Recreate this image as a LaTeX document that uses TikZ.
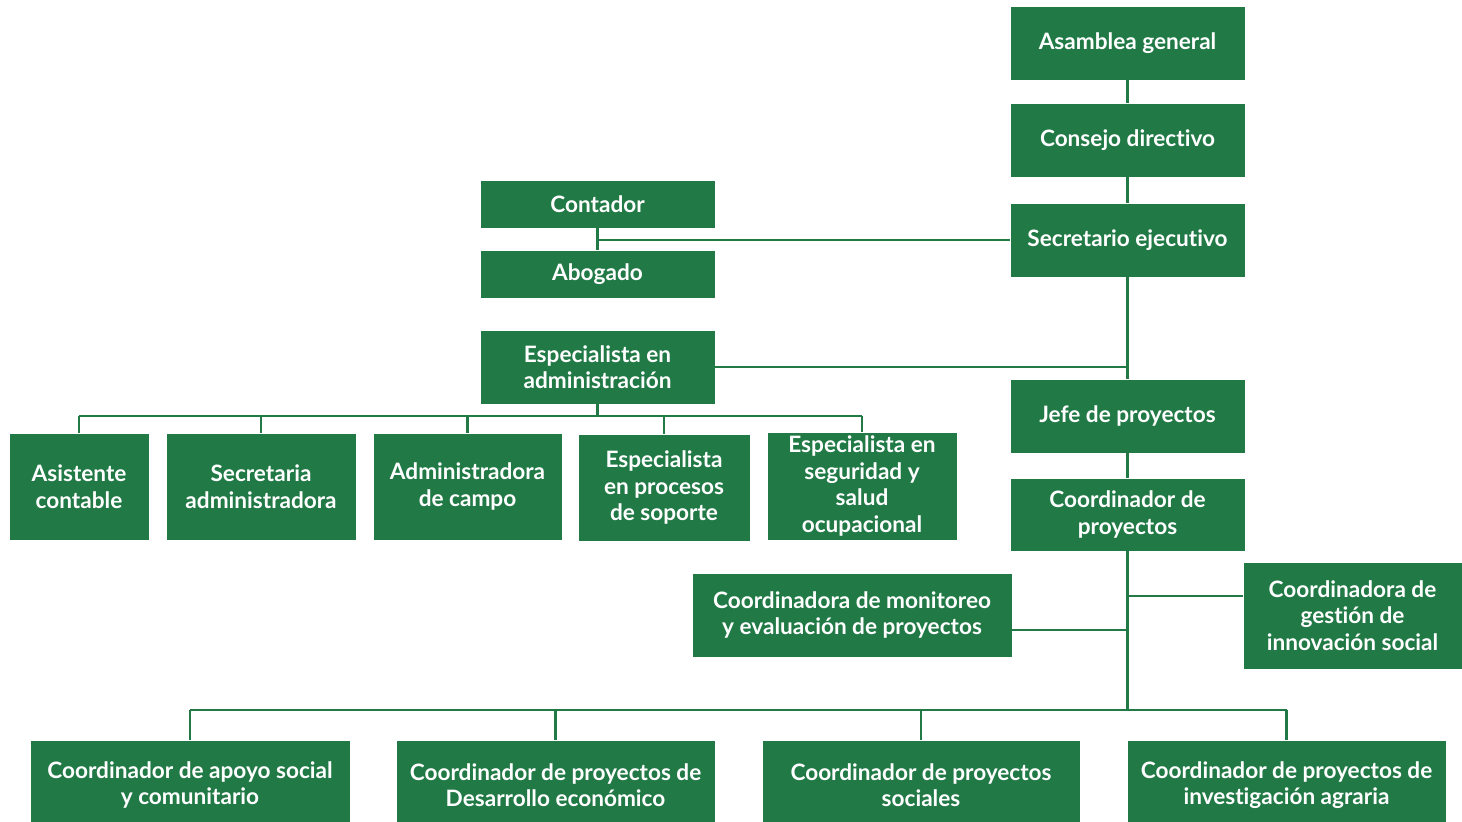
\documentclass[tikz,border=0pt]{standalone}
\usepackage{fontspec}
\setmainfont{Lato}[Ligatures={NoCommon}]
\definecolor{gr}{HTML}{217A46}
\begin{document}
\begin{tikzpicture}[x=0.5pt,y=-0.5pt,
  box/.style={fill=gr, draw=white, line width=0.3pt, text=white, font=\fontsize{11.3}{13.2}\selectfont\bfseries, align=center, inner sep=0pt},
  wh/.style 2 args={minimum width=#1*0.5pt, minimum height=#2*0.5pt},
  ln/.style={draw=gr, line width=1.2pt}]
\useasboundingbox (0,0) rectangle (1462,821);
% top chain
\node[box, wh={235}{74}] (asam) at (1127.5,43) {Asamblea general};
\node[box, wh={235}{74}] (cons) at (1127.5,140) {Consejo directivo};
\node[box, wh={235}{74}] (secr) at (1127.5,240) {Secretario ejecutivo};
\node[box, wh={235}{48}] (cont) at (597.5,204) {Contador};
\node[box, wh={235}{48}] (abog) at (597.5,274) {Abogado};
\node[box, wh={235}{74}] (espa) at (597.5,367) {Especialista en\\administración};
\node[box, wh={235}{74}] (jefe) at (1127.5,416) {Jefe de proyectos};
\node[box, wh={235}{73}] (coor) at (1127.5,514.5) {Coordinador de\\proyectos};
% second row
\node[box, wh={140}{107}] (asis) at (79,486.5) {Asistente\\contable};
\node[box, wh={190}{107}] (secta) at (261,486.5) {Secretaria\\administradora};
\node[box, wh={189}{107}] (admc) at (467.5,486.5) {Administradora\\de campo};
\node[box, wh={172}{107}] (proc) at (664,487.5) {Especialista\\en procesos\\de soporte};
\node[box, wh={190}{108}] (segu) at (862,486) {Especialista en\\seguridad y\\salud\\ocupacional};
% coordinators
\node[box, wh={320}{84}] (moni) at (852,615) {Coordinadora de monitoreo\\y evaluación de proyectos};
\node[box, wh={219}{107}] (gest) at (1352.5,615.5) {Coordinadora de\\gestión de\\innovación social};
% bottom row
\node[box, wh={320}{90}] (b1) at (190,785) {Coordinador de apoyo social\\y comunitario};
\node[box, wh={319}{90}] (b2) at (555.5,785) {Coordinador de proyectos de\\Desarrollo económico};
\node[box, wh={318}{90}] (b3) at (921,785) {Coordinador de proyectos\\sociales};
\node[box, wh={319}{90}] (b4) at (1286.5,785) {Coordinador de proyectos de\\investigación agraria};
% bus coordinates
\coordinate (busAL) at (79,416);
\coordinate (busAR) at (862,416);
\coordinate (busBL) at (190,710);
\coordinate (busBR) at (1286.5,710);
% connectors
\draw[ln] (asam) -- (cons);
\draw[ln] (cons) -- (secr);
\draw[ln] (cont) -- (abog);
\draw[ln] (secr.west) -- (secr.west -| cont);
\draw[ln] (secr) -- (jefe);
\draw[ln] (espa.east) -- (espa.east -| secr);
\draw[ln] (jefe) -- (coor);
\draw[ln] (espa.south) -- (espa.south |- busAL);
\draw[ln] (busAL) -- (busAR);
\foreach \n in {asis,secta,admc,proc,segu} \draw[ln] (\n.north) -- (\n.north |- busAL);
\draw[ln] (coor.south) -- (coor.south |- busBL);
\draw[ln] ([yshift=9.75pt]gest.west) -- ([yshift=9.75pt]gest.west -| coor);
\draw[ln] ([yshift=-7.5pt]moni.east) -- ([yshift=-7.5pt]moni.east -| coor);
\draw[ln] (busBL) -- (busBR);
\foreach \n in {b1,b2,b3,b4} \draw[ln] (\n.north) -- (\n.north |- busBL);
\end{tikzpicture}
\end{document}
